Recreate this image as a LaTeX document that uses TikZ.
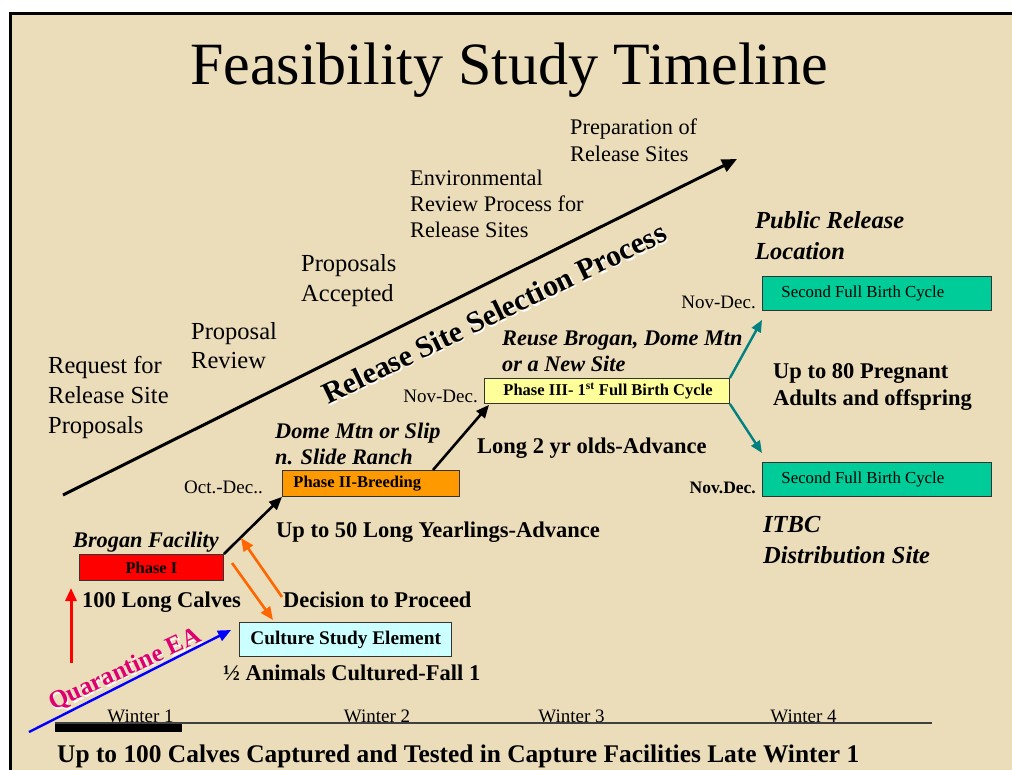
\documentclass[tikz,border=0pt]{standalone}
\usepackage{fontspec}
\setmainfont{Liberation Serif}
\usetikzlibrary{arrows.meta,calc}
\definecolor{parch}{RGB}{236,221,186}
\definecolor{boxred}{RGB}{255,0,0}
\definecolor{boxorange}{RGB}{255,153,0}
\definecolor{boxyellow}{RGB}{255,255,153}
\definecolor{boxteal}{RGB}{0,204,153}
\definecolor{boxcyan}{RGB}{204,255,255}
\definecolor{arrteal}{RGB}{0,128,128}
\definecolor{arrorange}{RGB}{255,102,0}
\definecolor{qpink}{RGB}{222,0,110}
\newcommand\myfs[2]{\fontsize{#1}{#2}\selectfont}
\newcommand\fixw[2]{\makebox[#1][l]{#2}}
\begin{document}
\begin{tikzpicture}[x=1pt,y=-1pt,
  lbl/.style={anchor=base west,inner sep=0pt,align=left},
  lblr/.style={anchor=base east,inner sep=0pt},
  box/.style={draw=black!80,line width=0.9pt,inner ysep=0pt,anchor=north west},
  blk/.style={line width=2.6pt,-{Triangle[length=13pt,width=11pt]}},
  bigarr/.style={line width=3pt,-{Triangle[length=15pt,width=13pt]}},
  tarr/.style={arrteal,line width=2.4pt,-{Triangle[length=12pt,width=10pt]}},
  oarr/.style={arrorange,line width=2.6pt,-{Triangle[length=13pt,width=11pt]}},
  rarr/.style={red,line width=3pt,-{Triangle[length=13pt,width=11pt]}},
  barr/.style={blue,line width=2.4pt,-{Triangle[length=13pt,width=11pt]}},
  plain/.style={font=\myfs{24.5}{30}},
  small/.style={font=\myfs{22.3}{26.5}},
  bld/.style={font=\myfs{22.5}{27}\bfseries},
  bit/.style={font=\myfs{22.3}{26}\bfseries\itshape},
  bitl/.style={font=\myfs{24.5}{30.5}\bfseries\itshape},
  date/.style={font=\myfs{19}{22}},
  phase/.style={font=\myfs{16.5}{20}\bfseries}
]
\useasboundingbox (0,0) rectangle (1012,770);
\fill[white] (0,0) rectangle (1012,770);
\fill[parch] (10,14) rectangle (1012,770);
\draw[line width=3pt] (10,770) -- (10,14) -- (1012,14);

% title
\node[anchor=base,inner sep=0pt,font=\myfs{60}{70}] (title) at (509,85) {Feasibility Study Timeline};

% process stage labels (anchor = baseline of last line)
\node[lbl,plain] (req) at (48,433) {Request for\\Release Site\\Proposals};
\node[lbl,plain,font=\myfs{24.5}{29}] (prev) at (191,368) {Proposal\\Review};
\node[lbl,plain] (pacc) at (301,301) {Proposals\\Accepted};
\node[lbl,small] (env) at (410,238) {Environmental\\Review Process for\\Release Sites};
\node[lbl,small,font=\myfs{22.3}{27.5}] (prep) at (570,162) {Preparation of\\Release Sites};

% release site selection arrow
\coordinate (rs0) at (63,495);
\coordinate (rs1) at (737,159);
\draw[bigarr] (rs0) -- (rs1);
\node[rotate=25.8,inner sep=0pt,font=\myfs{30}{34}\bfseries,white] (rssps) at (495.5,314.5) {Release Site Selection Process};
\node[rotate=25.8,inner sep=0pt,font=\myfs{30}{34}\bfseries] (rssp) at (494,313) {Release Site Selection Process};

% boxes
\node[box,fill=boxred,minimum width=144pt,minimum height=26pt,phase] (p1) at (79,554) {Phase I};
\node[box,fill=boxorange,minimum height=26pt,inner xsep=11pt,phase] (p2) at (282,470) {\fixw{155pt}{Phase II-Breeding}};
\node[box,fill=boxyellow,minimum height=25pt,inner xsep=19pt,phase] (p3) at (484,378) {\fixw{207pt}{Phase III- 1\textsuperscript{st} Full Birth Cycle}};
\node[box,fill=boxteal,minimum height=34pt,inner xsep=19pt,font=\myfs{16.8}{20}] (s1) at (762,276) {\fixw{191pt}{Second Full Birth Cycle}};
\node[box,fill=boxteal,minimum height=34pt,inner xsep=19pt,font=\myfs{16.8}{20}] (s2) at (762,462) {\fixw{191pt}{Second Full Birth Cycle}};
\node[box,fill=boxcyan,minimum height=34pt,inner xsep=11pt,font=\myfs{19.3}{22}\bfseries] (cse) at (239,622) {\fixw{190pt}{Culture Study Element}};

% dates
\node[lblr,date] (d3) at (478,402) {Nov-Dec.};
\node[lblr,date] (d2) at (263,493) {Oct.-Dec..};
\node[lblr,date] (d4a) at (756,308) {Nov-Dec.};
\node[lblr,font=\myfs{17.5}{20}\bfseries] (d4b) at (756,493) {Nov.Dec.};

% site labels
\node[lbl,bit] (brog) at (73,547) {Brogan Facility};
\node[lbl,bit] (dome) at (275,464) {Dome Mtn or Slip\\n. Slide Ranch};
\node[lbl,bit] (reuse) at (502,371) {Reuse Brogan, Dome Mtn\\or a New Site};
\node[lbl,bitl] (pub) at (755,259) {Public Release\\Location};
\node[lbl,bitl] (itbc) at (763,563) {ITBC\\Distribution Site};

% animal labels
\node[lbl,bld] (calves) at (82,607) {100 Long Calves};
\node[lbl,bld] (yearl) at (276,537) {Up to 50 Long Yearlings-Advance};
\node[lbl,bld] (twoyr) at (477,453) {Long 2 yr olds-Advance};
\node[lbl,bld] (preg) at (773,405) {Up to 80 Pregnant\\Adults and offspring};
\node[lbl,bld] (decis) at (283,607) {Decision to Proceed};
\node[lbl,bld] (half) at (223,680) {½ Animals Cultured-Fall 1};

% phase arrows
\draw[blk] (p1.north east) -- (p2.south west);
\draw[blk] ($(p2.north west)+(151,0)$) -- ($(p3.south west)+(5,1)$);
\draw[tarr] (p3.north east) -- ($(s1.south west)+(0,9)$);
\draw[tarr] (p3.south east) -- ($(s2.north west)+(0,-9)$);

% decision arrows
\coordinate (oa0) at (282,597);
\coordinate (oa1) at (241,538);
\coordinate (ob0) at (232,563);
\coordinate (ob1) at (273,620);
\draw[oarr] (oa0) -- (oa1);
\draw[oarr] (ob0) -- (ob1);

% red and blue arrows
\coordinate (ra0) at (71,663);
\coordinate (ra1) at (71,588);
\draw[rarr] (ra0) -- (ra1);
\coordinate (ba0) at (29,732);
\coordinate (ba1) at (231,630);
\draw[barr] (ba0) -- (ba1);
\node[rotate=25,inner sep=0pt,font=\myfs{25}{28}\bfseries,white] (qeas) at (126.5,671.5) {Quarantine EA};
\node[rotate=25,inner sep=0pt,font=\myfs{25}{28}\bfseries,text=qpink] (qea) at (125,670) {Quarantine EA};

% timeline
\coordinate (tl0) at (55,723);
\coordinate (tl1) at (932,723);
\fill[black] (55,723) rectangle (182,732);
\draw[line width=1.3pt,black!75] (tl0) -- (tl1);
\node[anchor=base,inner sep=0pt,date] (w1) at (140.5,722) {Winter 1};
\node[anchor=base,inner sep=0pt,date] (w2) at (377,722) {Winter 2};
\node[anchor=base,inner sep=0pt,date] (w3) at (571.5,722) {Winter 3};
\node[anchor=base,inner sep=0pt,date] (w4) at (803.5,722) {Winter 4};

\node[lbl,font=\myfs{25.4}{28}\bfseries] (bottom) at (57,762) {Up to 100 Calves Captured and Tested in Capture Facilities Late Winter 1};
\end{tikzpicture}
\end{document}
